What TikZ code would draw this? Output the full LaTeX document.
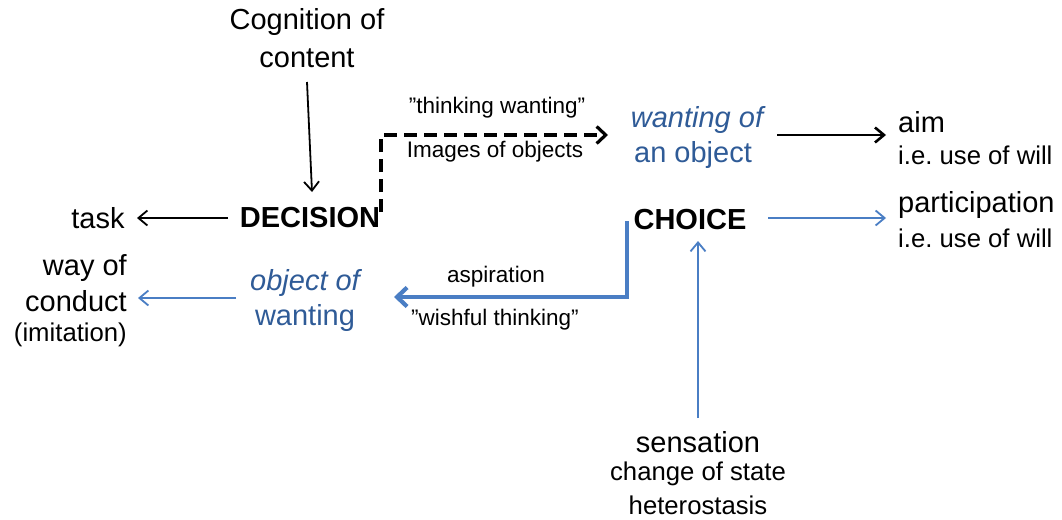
\documentclass[tikz,border=0pt]{standalone}
\usepackage{fontspec}
\setmainfont{Liberation Sans}
\frenchspacing
\usetikzlibrary{arrows.meta}
\definecolor{btext}{HTML}{2F5B97}
\definecolor{barrow}{HTML}{4A7EC4}
\tikzset{
  big/.style={inner sep=0pt, font=\fontsize{29}{36}\selectfont},
  mid/.style={inner sep=0pt, font=\fontsize{25.7}{32}\selectfont},
  small/.style={inner sep=0pt, font=\fontsize{22.5}{28}\selectfont},
  blk/.style={draw=black, line width=1.8pt, -{Straight Barb[length=9pt,width=15pt,line width=1.8pt]}},
  blu/.style={draw=barrow, line width=1.8pt, -{Straight Barb[length=9pt,width=15pt,line width=1.8pt]}},
}
\begin{document}
\begin{tikzpicture}[x=1pt,y=-1pt]
\useasboundingbox (0,0) rectangle (1062,519);
% texts
\node[big] (cog1) at (307,22) {Cognition of};
\node[big] (cog2) at (307,58) {content};
\node[big,font=\fontsize{29}{36}\selectfont\bfseries] (dec) at (310,218) {DECISION};
\node[big] (task) at (98,218) {task};
\node[small] (tw) at (497,108) {”thinking wanting”};
\node[small] (img) at (495,152) {Images of objects};
\node[big,text=btext] (wo1) at (697,120) {\itshape wanting of};
\node[big,text=btext] (wo2) at (693,155) {an object};
\node[big,anchor=west] (aim) at (898,122) {aim};
\node[mid,anchor=west] (aim2) at (898,155) {i.e. use of will};
\node[big,font=\fontsize{29}{36}\selectfont\bfseries] (cho) at (690,220) {CHOICE};
\node[big,anchor=west] (par) at (898,205) {participation};
\node[mid,anchor=west] (par2) at (898,238) {i.e. use of will};
\node[small] (asp) at (496,277) {aspiration};
\node[small] (wish) at (495,320) {”wishful thinking”};
\node[big,text=btext] (ow1) at (305,283) {\itshape object of};
\node[big,text=btext] (ow2) at (305,318) {wanting};
\node[big,anchor=east] (way1) at (127,268) {way of};
\node[big,anchor=east] (way2) at (127,301) {conduct};
\node[mid,anchor=east] (way3) at (127,335) {(imitation)};
\node[big] (sen) at (698,442) {sensation};
\node[mid] (sen2) at (698,474) {change of state};
\node[mid] (sen3) at (698,505) {heterostasis};
% coordinates
\coordinate (cogA) at (307,82);
\coordinate (cogB) at (312,192);
\coordinate (taskA) at (228,218);
\coordinate (taskB) at (137,218);
\coordinate (dA) at (381,212);
\coordinate (dB) at (381,135);
\coordinate (dC) at (608,135);
\coordinate (aimA) at (777,135);
\coordinate (aimB) at (886,135);
\coordinate (parA) at (768,218);
\coordinate (parB) at (886,218);
\coordinate (cA) at (627,221);
\coordinate (cB) at (627,297);
\coordinate (cC) at (394,297);
\coordinate (owA) at (236,298);
\coordinate (owB) at (138,298);
\coordinate (senA) at (698,418);
\coordinate (senB) at (698,241);
% connectors
\draw[blk] (cogA) -- (cogB);
\draw[blk] (taskA) -- (taskB);
\draw[blk, line width=3.2pt, dash pattern=on 13pt off 7pt, -{Straight Barb[length=9pt,width=17pt,line width=3.2pt]}] (dA) -- (dB) -- (dC);
\draw[blk, line width=2.6pt, -{Straight Barb[length=9pt,width=15pt,line width=2.6pt]}] (aimA) -- (aimB);
\draw[blu] (parA) -- (parB);
\draw[draw=barrow, line width=4.2pt, -{Straight Barb[length=10pt,width=19pt,line width=4.2pt]}] (cA) -- (cB) -- (cC);
\draw[blu] (owA) -- (owB);
\draw[blu] (senA) -- (senB);
\end{tikzpicture}
\end{document}
